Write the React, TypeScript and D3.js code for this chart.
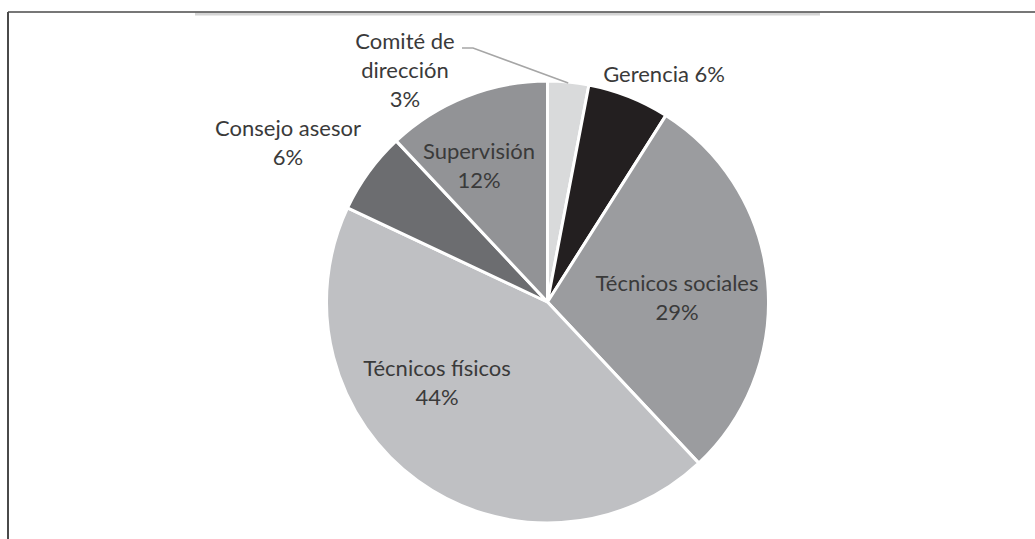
import React from 'react';
import * as d3 from 'd3';

// slice data, clockwise from 12 o'clock
const categories = ['Comité de dirección', 'Gerencia', 'Técnicos sociales', 'Técnicos físicos', 'Consejo asesor', 'Supervisión'];
const values = [3, 6, 29, 44, 6, 12];
const labelLines = [
  ['Comité de', 'dirección', '3%'],
  ['Gerencia 6%'],
  ['Técnicos sociales', '29%'],
  ['Técnicos físicos', '44%'],
  ['Consejo asesor', '6%'],
  ['Supervisión', '12%'],
];
const colors = ['#d9dadb', '#231f20', '#9b9c9f', '#bfc0c3', '#6c6d70', '#929396'];

const W = 1035;
const H = 539;
const cx = 547.5;
const cy = 302;
const radius = 221;
const fontSize = 22;
const lineGap = 29;

// label centres (relative to pie centre), placed like Excel's best fit
const labelPos: [number, number][] = [
  [-142.5, -232],
  [116.5, -228],
  [129.5, -4],
  [-110.5, 81],
  [-259.5, -159],
  [-68.5, -136],
];

export default function App() {
  const pie = d3.pie<number>().sort(null).value(d => d);
  const arcs = pie(values);
  const arc = d3.arc<d3.PieArcDatum<number>>().innerRadius(0).outerRadius(radius);

  // leader line for the small top slice
  const a0 = arcs[0];
  const mid = (a0.startAngle + a0.endAngle) / 2;
  const tip: [number, number] = [Math.sin(mid) * (radius - 1), -Math.cos(mid) * (radius - 1)];
  const lx = labelPos[0][0] + 57;
  const ly = labelPos[0][1] - lineGap + 7;
  const leader = d3.line()([[lx, ly], [lx + 11, ly], tip]);

  return (
    <svg width={W} height={H} style={{ position: 'absolute', left: 0, top: 0, background: '#fff' }}
      fontFamily="Lato, 'Open Sans', sans-serif">
      {/* frame */}
      <line x1={195} x2={820} y1={14} y2={14} stroke="#d4d4d4" strokeWidth={3} />
      <line x1={8} x2={W} y1={12} y2={12} stroke="#4a4a4a" strokeWidth={1.5} />
      <line x1={8} x2={8} y1={12} y2={H} stroke="#4a4a4a" strokeWidth={2} />

      <g transform={`translate(${cx},${cy})`}>
        {arcs.map((d, i) => (
          <path key={categories[i]} d={arc(d) || ''} fill={colors[i]} stroke="#fff" strokeWidth={3} strokeLinejoin="round" />
        ))}
        <path d={leader || ''} fill="none" stroke="#a6a6a6" strokeWidth={1.5} />
        {labelLines.map((lines, i) => {
          const [x, y] = labelPos[i];
          const top = y - ((lines.length - 1) * lineGap) / 2;
          return (
            <text key={categories[i]} textAnchor="middle" fontSize={fontSize} fill="#3a3a3a">
              {lines.map((t, j) => (
                <tspan key={j} x={x} y={top + j * lineGap} dy="0.35em">{t}</tspan>
              ))}
            </text>
          );
        })}
      </g>
    </svg>
  );
}
